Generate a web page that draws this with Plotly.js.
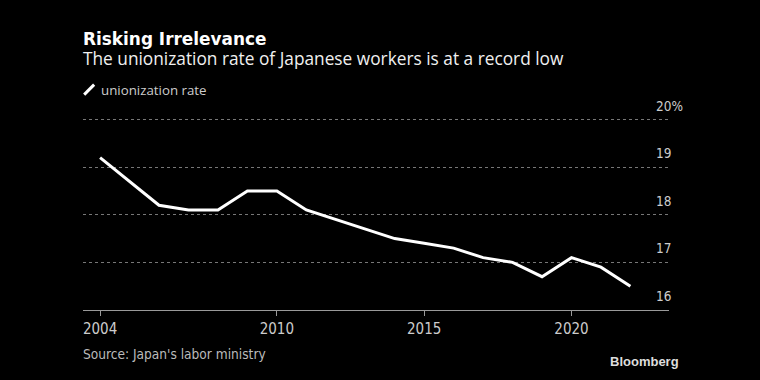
<!DOCTYPE html>
<html>
<head>
<meta charset="utf-8">
<script src="https://cdn.plot.ly/plotly-3.0.1.min.js"></script>
<style>
html,body{margin:0;padding:0;background:#000;}
#chart{width:760px;height:380px;}
</style>
</head>
<body>
<div id="chart"></div>
<script>
const years = [2004,2005,2006,2007,2008,2009,2010,2011,2012,2013,2014,2015,2016,2017,2018,2019,2020,2021,2022];
const rates = [19.2,18.7,18.2,18.1,18.1,18.5,18.5,18.1,17.9,17.7,17.5,17.4,17.3,17.1,17.0,16.7,17.1,16.9,16.5];
const xTickVals = [2004,2010,2015,2020];
const xTickText = ['2004','2010','2015','2020'];
const yTickVals = [16,17,18,19,20];
const yTickText = ['16','17','18','19','20%'];

const titleText = 'Risking Irrelevance';
const subtitleText = 'The unionization rate of Japanese workers is at a record low';
const seriesName = 'unionization rate';
const sourceText = "Source: Japan's labor ministry";

const mainFont = 'Open Sans, Noto Sans, sans-serif';
const tickFont = 'Liberation Sans Narrow, DejaVu Sans Condensed, sans-serif';

const trace = {
  x: years, y: rates, type: 'scatter', mode: 'lines', name: seriesName,
  line: {color: '#ffffff', width: 3}, hoverinfo: 'x+y', showlegend: false
};

const annotations = [];
yTickVals.forEach((v, i) => {
  annotations.push({
    xref: 'paper', yref: 'y', x: 0.974, y: v, text: yTickText[i],
    xanchor: 'left', yanchor: 'middle', yshift: 14, showarrow: false,
    font: {family: tickFont, size: 13.5, color: '#cccccc'}
  });
});
annotations.push({
  xref: 'paper', yref: 'paper', x: 0, y: 1.3, xanchor: 'left', yanchor: 'middle',
  align: 'left', showarrow: false, xshift: -2,
  text: '<span style="font-family:DejaVu Sans;font-size:16.9px;color:#ffffff"><b>' + titleText +
        '</b></span><br><span style="font-size:17.3px">' + subtitleText + '</span>',
  font: {family: mainFont, size: 15.4, color: '#f0f0f0'}
});
annotations.push({
  xref: 'paper', yref: 'paper', x: 0, y: 1.1, xanchor: 'left', yanchor: 'middle',
  text: seriesName, showarrow: false, xshift: 16,
  font: {family: mainFont, size: 13.3, color: '#cccccc'}
});
annotations.push({
  xref: 'paper', yref: 'paper', x: 0, y: -0.222, xanchor: 'left', yanchor: 'middle',
  text: sourceText, showarrow: false, xshift: -2,
  font: {family: tickFont, size: 13.6, color: '#bbbbbb'}
});
annotations.push({
  xref: 'paper', yref: 'paper', x: 1.02, y: -0.255, xanchor: 'right', yanchor: 'middle',
  text: '<b>Bloomberg</b>', showarrow: false,
  font: {family: 'Liberation Sans, Arial, sans-serif', size: 13, color: '#dddddd'}
});

const layout = {
  width: 760, height: 380,
  paper_bgcolor: '#000000', plot_bgcolor: '#000000',
  margin: {l: 83, r: 91, t: 110, b: 70},
  showlegend: false,
  xaxis: {
    range: [2003.42, 2023.31], tickvals: xTickVals, ticktext: xTickText,
    showgrid: false, zeroline: false, showline: true, linecolor: '#9a9a9a', linewidth: 1,
    ticks: 'outside', ticklen: 5, tickcolor: '#9a9a9a', tickwidth: 1,
    tickfont: {family: tickFont, size: 15, color: '#cccccc'}, fixedrange: true
  },
  yaxis: {
    range: [16, 20.2], tickvals: yTickVals, showticklabels: false,
    showgrid: true, gridcolor: '#777777', gridwidth: 1, griddash: 'dot',
    zeroline: false, showline: false, fixedrange: true
  },
  shapes: [{
    type: 'line', xref: 'paper', yref: 'paper',
    x0: 0.002, y0: 1.077, x1: 0.019, y1: 1.127,
    line: {color: '#ffffff', width: 3}
  }],
  annotations: annotations
};

Plotly.newPlot('chart', [trace], layout, {displayModeBar: false, staticPlot: true});
</script>
</body>
</html>
